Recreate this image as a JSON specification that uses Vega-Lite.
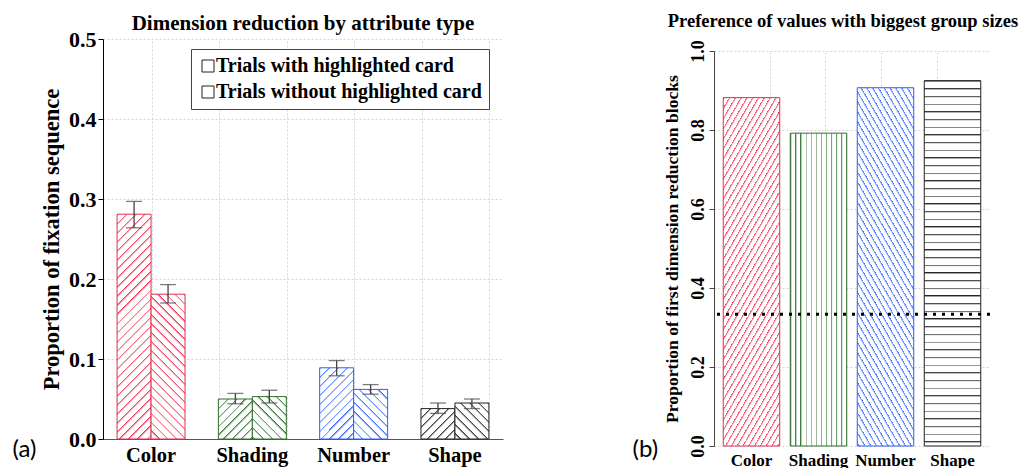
{
"$schema": "https://vega.github.io/schema/vega-lite/v6.json",
"background": "white",
"padding": {"left": 12, "top": 11, "right": 0, "bottom": 0},
"spacing": 129,
"config": {
  "view": {"stroke": null},
  "axis": {"labelFont": "Liberation Serif", "titleFont": "Liberation Serif", "labelFontWeight": "bold", "titleFontWeight": "bold", "labelColor": "#000", "titleColor": "#000", "domainColor": "#000", "tickColor": "#000", "gridColor": "#d4d4d4", "gridDash": [2, 2]},
  "title": {"font": "Liberation Serif", "fontWeight": "bold", "color": "#000"}
},
"datasets": {
  "a": [
    {"attr": "Color", "s": "with", "value": 0.281, "lo": 0.264, "hi": 0.297},
    {"attr": "Color", "s": "without", "value": 0.181, "lo": 0.170, "hi": 0.193},
    {"attr": "Shading", "s": "with", "value": 0.050, "lo": 0.044, "hi": 0.057},
    {"attr": "Shading", "s": "without", "value": 0.053, "lo": 0.045, "hi": 0.061},
    {"attr": "Number", "s": "with", "value": 0.089, "lo": 0.079, "hi": 0.098},
    {"attr": "Number", "s": "without", "value": 0.062, "lo": 0.056, "hi": 0.068},
    {"attr": "Shape", "s": "with", "value": 0.038, "lo": 0.032, "hi": 0.045},
    {"attr": "Shape", "s": "without", "value": 0.045, "lo": 0.038, "hi": 0.050}
  ],
  "b": [
    {"attr": "Color", "value": 0.882},
    {"attr": "Shading", "value": 0.792},
    {"attr": "Number", "value": 0.907},
    {"attr": "Shape", "value": 0.925}
  ]
},
"hconcat": [
{
  "width": 400, "height": 400,
  "title": {"text": "Dimension reduction by attribute type", "fontSize": 21, "offset": -5.5},
  "data": {"name": "a"},
  "layer": [
    {"mark": {"type": "point", "opacity": 0},
     "encoding": {
       "x": {"field": "value", "type": "quantitative", "scale": {"domain": [0, 400]}, "axis": {"orient": "top", "values": [49, 116, 184, 251, 319, 386], "grid": true, "labels": false, "ticks": false, "domain": false, "title": null, "minExtent": 0, "maxExtent": 0, "offset": 0, "labelPadding": 0, "tickSize": 0, "titlePadding": 0}},
       "y": {"field": "value", "type": "quantitative", "scale": {"domain": [0, 0.5]}, "title": "Proportion of fixation sequence"},
       "shape": {"field": "s", "type": "nominal", "scale": {"domain": ["with", "without"], "range": ["square", "square"]},
         "legend": {"orient": "none", "legendX": 88, "legendY": 10, "title": null, "symbolType": "square", "symbolSize": 144, "symbolStrokeWidth": 1, "symbolOpacity": 1, "symbolFillColor": "white", "symbolStrokeColor": "#222", "labelFont": "Liberation Serif", "labelFontWeight": "bold", "labelFontSize": 20, "labelColor": "#000", "labelLimit": 400, "labelOffset": -2, "rowPadding": 6, "padding": 7, "strokeColor": "#444", "fillColor": "white",
           "labelExpr": "datum.value === 'with' ? 'Trials with highlighted card' : 'Trials without highlighted card'",
           "encode": {"symbols": {"update": {
             "fill": [
               {"test": "datum.value === 'with'", "value": {"gradient": "linear", "x1": 0, "y1": 0, "x2": 1, "y2": 1, "stops": [{"offset":0,"color":"#222"},{"offset":0.08,"color":"#fff"},{"offset":0.25,"color":"#fff"},{"offset":0.25,"color":"#222"},{"offset":0.33,"color":"#fff"},{"offset":0.5,"color":"#fff"},{"offset":0.5,"color":"#222"},{"offset":0.58,"color":"#fff"},{"offset":0.75,"color":"#fff"},{"offset":0.75,"color":"#222"},{"offset":0.83,"color":"#fff"},{"offset":1,"color":"#fff"}]}},
               {"value": {"gradient": "linear", "x1": 1, "y1": 0, "x2": 0.001, "y2": 1, "stops": [{"offset":0,"color":"#222"},{"offset":0.08,"color":"#fff"},{"offset":0.25,"color":"#fff"},{"offset":0.25,"color":"#222"},{"offset":0.33,"color":"#fff"},{"offset":0.5,"color":"#fff"},{"offset":0.5,"color":"#222"},{"offset":0.58,"color":"#fff"},{"offset":0.75,"color":"#fff"},{"offset":0.75,"color":"#222"},{"offset":0.83,"color":"#fff"},{"offset":1,"color":"#fff"}]}}
             ],
             "stroke": {"value": "#222"}, "strokeWidth": {"value": 1}, "opacity": {"value": 1}, "fillOpacity": {"value": 1}, "strokeOpacity": {"value": 1}, "size": {"value": 144}, "shape": {"value": "square"}}}}}}
     }},
    {"layer": [
      {"mark": {"type": "bar", "strokeWidth": 1},
       "encoding": {
         "x": {"field": "attr", "type": "nominal", "scale": {"domain": ["Color", "Shading", "Number", "Shape"], "paddingInner": 0.329, "paddingOuter": 0.139},
               "axis": {"orient": "bottom", "title": "(a)", "titleFont": "Lato", "titleFontWeight": "normal", "titleFontSize": 24, "titleX": -91, "titleY": 10, "titleAlign": "left", "titleBaseline": "middle", "titleAngle": 0, "labelAngle": 0, "labelFontSize": 20.5, "labelPadding": 6, "ticks": false, "domainColor": "#555", "grid": false}},
         "xOffset": {"field": "s", "type": "nominal", "scale": {"domain": ["with", "without"], "paddingInner": 0, "paddingOuter": 0}},
         "y": {"field": "value", "type": "quantitative", "scale": {"domain": [0, 0.5]}, "title": "Proportion of fixation sequence",
               "axis": {"values": [0, 0.1, 0.2, 0.3, 0.4, 0.5], "format": ".1f", "grid": true, "labelFontSize": 22, "tickSize": 5, "labelPadding": 2, "titleFontSize": 22.5, "titlePadding": 5}},
         "stroke": {"field": "attr", "type": "nominal", "scale": {"domain": ["Color", "Shading", "Number", "Shape"], "range": ["#e0304e", "#2e6e2e", "#2f5cf5", "#222222"]}, "legend": null},
         "fill": {"condition": [
           {"test": "datum.attr === 'Color' && datum.s === 'with'", "value": {"gradient": "linear", "x1": 0, "y1": 0, "x2": 0.17, "y2": 1.126, "stops": [
{"offset":0,"color":"#e35"},{"offset":0.01,"color":"#fff"},{"offset":0.035,"color":"#fff"},
{"offset":0.035,"color":"#e35"},{"offset":0.045,"color":"#fff"},{"offset":0.07,"color":"#fff"},
{"offset":0.07,"color":"#e35"},{"offset":0.08,"color":"#fff"},{"offset":0.105,"color":"#fff"},
{"offset":0.105,"color":"#e35"},{"offset":0.115,"color":"#fff"},{"offset":0.14,"color":"#fff"},
{"offset":0.14,"color":"#e35"},{"offset":0.15,"color":"#fff"},{"offset":0.175,"color":"#fff"},
{"offset":0.175,"color":"#e35"},{"offset":0.185,"color":"#fff"},{"offset":0.21,"color":"#fff"},
{"offset":0.21,"color":"#e35"},{"offset":0.22,"color":"#fff"},{"offset":0.245,"color":"#fff"},
{"offset":0.245,"color":"#e35"},{"offset":0.255,"color":"#fff"},{"offset":0.28,"color":"#fff"},
{"offset":0.28,"color":"#e35"},{"offset":0.29,"color":"#fff"},{"offset":0.315,"color":"#fff"},
{"offset":0.315,"color":"#e35"},{"offset":0.325,"color":"#fff"},{"offset":0.35,"color":"#fff"},
{"offset":0.35,"color":"#e35"},{"offset":0.36,"color":"#fff"},{"offset":0.385,"color":"#fff"},
{"offset":0.385,"color":"#e35"},{"offset":0.395,"color":"#fff"},{"offset":0.42,"color":"#fff"},
{"offset":0.42,"color":"#e35"},{"offset":0.43,"color":"#fff"},{"offset":0.455,"color":"#fff"},
{"offset":0.455,"color":"#e35"},{"offset":0.465,"color":"#fff"},{"offset":0.49,"color":"#fff"},
{"offset":0.49,"color":"#e35"},{"offset":0.5,"color":"#fff"},{"offset":0.525,"color":"#fff"},
{"offset":0.525,"color":"#e35"},{"offset":0.535,"color":"#fff"},{"offset":0.56,"color":"#fff"},
{"offset":0.56,"color":"#e35"},{"offset":0.57,"color":"#fff"},{"offset":0.595,"color":"#fff"},
{"offset":0.595,"color":"#e35"},{"offset":0.605,"color":"#fff"},{"offset":0.63,"color":"#fff"},
{"offset":0.63,"color":"#e35"},{"offset":0.64,"color":"#fff"},{"offset":0.665,"color":"#fff"},
{"offset":0.665,"color":"#e35"},{"offset":0.675,"color":"#fff"},{"offset":0.7,"color":"#fff"},
{"offset":0.7,"color":"#e35"},{"offset":0.71,"color":"#fff"},{"offset":0.735,"color":"#fff"},
{"offset":0.735,"color":"#e35"},{"offset":0.745,"color":"#fff"},{"offset":0.77,"color":"#fff"},
{"offset":0.77,"color":"#e35"},{"offset":0.78,"color":"#fff"},{"offset":0.805,"color":"#fff"},
{"offset":0.805,"color":"#e35"},{"offset":0.815,"color":"#fff"},{"offset":0.84,"color":"#fff"},
{"offset":0.84,"color":"#e35"},{"offset":0.85,"color":"#fff"},{"offset":0.875,"color":"#fff"},
{"offset":0.875,"color":"#e35"},{"offset":0.885,"color":"#fff"},{"offset":0.91,"color":"#fff"},
{"offset":0.91,"color":"#e35"},{"offset":0.92,"color":"#fff"},{"offset":0.945,"color":"#fff"},
{"offset":0.945,"color":"#e35"},{"offset":0.955,"color":"#fff"},{"offset":0.98,"color":"#fff"},
{"offset":0.98,"color":"#e35"},{"offset":0.99,"color":"#fff"},{"offset":1,"color":"#fff"}]}},
           {"test": "datum.attr === 'Color' && datum.s === 'without'", "value": {"gradient": "linear", "x1": 1, "y1": 0, "x2": 0.725, "y2": 1.17, "stops": [
{"offset":0,"color":"#e35"},{"offset":0.015,"color":"#fff"},{"offset":0.05,"color":"#fff"},
{"offset":0.05,"color":"#e35"},{"offset":0.065,"color":"#fff"},{"offset":0.1,"color":"#fff"},
{"offset":0.1,"color":"#e35"},{"offset":0.115,"color":"#fff"},{"offset":0.15,"color":"#fff"},
{"offset":0.15,"color":"#e35"},{"offset":0.165,"color":"#fff"},{"offset":0.2,"color":"#fff"},
{"offset":0.2,"color":"#e35"},{"offset":0.215,"color":"#fff"},{"offset":0.25,"color":"#fff"},
{"offset":0.25,"color":"#e35"},{"offset":0.265,"color":"#fff"},{"offset":0.3,"color":"#fff"},
{"offset":0.3,"color":"#e35"},{"offset":0.315,"color":"#fff"},{"offset":0.35,"color":"#fff"},
{"offset":0.35,"color":"#e35"},{"offset":0.365,"color":"#fff"},{"offset":0.4,"color":"#fff"},
{"offset":0.4,"color":"#e35"},{"offset":0.415,"color":"#fff"},{"offset":0.45,"color":"#fff"},
{"offset":0.45,"color":"#e35"},{"offset":0.465,"color":"#fff"},{"offset":0.5,"color":"#fff"},
{"offset":0.5,"color":"#e35"},{"offset":0.515,"color":"#fff"},{"offset":0.55,"color":"#fff"},
{"offset":0.55,"color":"#e35"},{"offset":0.565,"color":"#fff"},{"offset":0.6,"color":"#fff"},
{"offset":0.6,"color":"#e35"},{"offset":0.615,"color":"#fff"},{"offset":0.65,"color":"#fff"},
{"offset":0.65,"color":"#e35"},{"offset":0.665,"color":"#fff"},{"offset":0.7,"color":"#fff"},
{"offset":0.7,"color":"#e35"},{"offset":0.715,"color":"#fff"},{"offset":0.75,"color":"#fff"},
{"offset":0.75,"color":"#e35"},{"offset":0.765,"color":"#fff"},{"offset":0.8,"color":"#fff"},
{"offset":0.8,"color":"#e35"},{"offset":0.815,"color":"#fff"},{"offset":0.85,"color":"#fff"},
{"offset":0.85,"color":"#e35"},{"offset":0.865,"color":"#fff"},{"offset":0.9,"color":"#fff"},
{"offset":0.9,"color":"#e35"},{"offset":0.915,"color":"#fff"},{"offset":0.95,"color":"#fff"},
{"offset":0.95,"color":"#e35"},{"offset":0.965,"color":"#fff"},{"offset":1,"color":"#fff"}]}},
           {"test": "datum.attr === 'Shading' && datum.s === 'with'", "value": {"gradient": "linear", "x1": 0, "y1": 0, "x2": 0.913, "y2": 1.074, "stops": [
{"offset":0,"color":"#373"},{"offset":0.035,"color":"#fff"},{"offset":0.12,"color":"#fff"},
{"offset":0.12,"color":"#373"},{"offset":0.155,"color":"#fff"},{"offset":0.24,"color":"#fff"},
{"offset":0.24,"color":"#373"},{"offset":0.275,"color":"#fff"},{"offset":0.36,"color":"#fff"},
{"offset":0.36,"color":"#373"},{"offset":0.395,"color":"#fff"},{"offset":0.48,"color":"#fff"},
{"offset":0.48,"color":"#373"},{"offset":0.515,"color":"#fff"},{"offset":0.6,"color":"#fff"},
{"offset":0.6,"color":"#373"},{"offset":0.635,"color":"#fff"},{"offset":0.72,"color":"#fff"},
{"offset":0.72,"color":"#373"},{"offset":0.755,"color":"#fff"},{"offset":0.84,"color":"#fff"},
{"offset":0.84,"color":"#373"},{"offset":0.875,"color":"#fff"},{"offset":0.96,"color":"#fff"},
{"offset":0.96,"color":"#373"},{"offset":0.995,"color":"#fff"},{"offset":1,"color":"#fff"}]}},
           {"test": "datum.attr === 'Shading' && datum.s === 'without'", "value": {"gradient": "linear", "x1": 1, "y1": 0, "x2": 0.121, "y2": 1.097, "stops": [
{"offset":0,"color":"#373"},{"offset":0.035,"color":"#fff"},{"offset":0.12,"color":"#fff"},
{"offset":0.12,"color":"#373"},{"offset":0.155,"color":"#fff"},{"offset":0.24,"color":"#fff"},
{"offset":0.24,"color":"#373"},{"offset":0.275,"color":"#fff"},{"offset":0.36,"color":"#fff"},
{"offset":0.36,"color":"#373"},{"offset":0.395,"color":"#fff"},{"offset":0.48,"color":"#fff"},
{"offset":0.48,"color":"#373"},{"offset":0.515,"color":"#fff"},{"offset":0.6,"color":"#fff"},
{"offset":0.6,"color":"#373"},{"offset":0.635,"color":"#fff"},{"offset":0.72,"color":"#fff"},
{"offset":0.72,"color":"#373"},{"offset":0.755,"color":"#fff"},{"offset":0.84,"color":"#fff"},
{"offset":0.84,"color":"#373"},{"offset":0.875,"color":"#fff"},{"offset":0.96,"color":"#fff"},
{"offset":0.96,"color":"#373"},{"offset":0.995,"color":"#fff"},{"offset":1,"color":"#fff"}]}},
           {"test": "datum.attr === 'Number' && datum.s === 'with'", "value": {"gradient": "linear", "x1": 0, "y1": 0, "x2": 0.575, "y2": 1.203, "stops": [
{"offset":0,"color":"#36f"},{"offset":0.025,"color":"#fff"},{"offset":0.085,"color":"#fff"},
{"offset":0.085,"color":"#36f"},{"offset":0.11,"color":"#fff"},{"offset":0.17,"color":"#fff"},
{"offset":0.17,"color":"#36f"},{"offset":0.195,"color":"#fff"},{"offset":0.255,"color":"#fff"},
{"offset":0.255,"color":"#36f"},{"offset":0.28,"color":"#fff"},{"offset":0.34,"color":"#fff"},
{"offset":0.34,"color":"#36f"},{"offset":0.365,"color":"#fff"},{"offset":0.425,"color":"#fff"},
{"offset":0.425,"color":"#36f"},{"offset":0.45,"color":"#fff"},{"offset":0.51,"color":"#fff"},
{"offset":0.51,"color":"#36f"},{"offset":0.535,"color":"#fff"},{"offset":0.595,"color":"#fff"},
{"offset":0.595,"color":"#36f"},{"offset":0.62,"color":"#fff"},{"offset":0.68,"color":"#fff"},
{"offset":0.68,"color":"#36f"},{"offset":0.705,"color":"#fff"},{"offset":0.765,"color":"#fff"},
{"offset":0.765,"color":"#36f"},{"offset":0.79,"color":"#fff"},{"offset":0.85,"color":"#fff"},
{"offset":0.85,"color":"#36f"},{"offset":0.875,"color":"#fff"},{"offset":0.935,"color":"#fff"},
{"offset":0.935,"color":"#36f"},{"offset":0.96,"color":"#fff"},{"offset":1,"color":"#fff"}]}},
           {"test": "datum.attr === 'Number' && datum.s === 'without'", "value": {"gradient": "linear", "x1": 1, "y1": 0, "x2": 0.214, "y2": 1.147, "stops": [
{"offset":0,"color":"#36f"},{"offset":0.03,"color":"#fff"},{"offset":0.11,"color":"#fff"},
{"offset":0.11,"color":"#36f"},{"offset":0.14,"color":"#fff"},{"offset":0.22,"color":"#fff"},
{"offset":0.22,"color":"#36f"},{"offset":0.25,"color":"#fff"},{"offset":0.33,"color":"#fff"},
{"offset":0.33,"color":"#36f"},{"offset":0.36,"color":"#fff"},{"offset":0.44,"color":"#fff"},
{"offset":0.44,"color":"#36f"},{"offset":0.47,"color":"#fff"},{"offset":0.55,"color":"#fff"},
{"offset":0.55,"color":"#36f"},{"offset":0.58,"color":"#fff"},{"offset":0.66,"color":"#fff"},
{"offset":0.66,"color":"#36f"},{"offset":0.69,"color":"#fff"},{"offset":0.77,"color":"#fff"},
{"offset":0.77,"color":"#36f"},{"offset":0.8,"color":"#fff"},{"offset":0.88,"color":"#fff"},
{"offset":0.88,"color":"#36f"},{"offset":0.91,"color":"#fff"},{"offset":0.99,"color":"#fff"},
{"offset":0.99,"color":"#36f"},{"offset":1,"color":"#fff"}]}},
           {"test": "datum.attr === 'Shape' && datum.s === 'with'", "value": {"gradient": "linear", "x1": 0, "y1": 0, "x2": 1.053, "y2": 0.941, "stops": [
{"offset":0,"color":"#222"},{"offset":0.04,"color":"#fff"},{"offset":0.14,"color":"#fff"},
{"offset":0.14,"color":"#222"},{"offset":0.18,"color":"#fff"},{"offset":0.28,"color":"#fff"},
{"offset":0.28,"color":"#222"},{"offset":0.32,"color":"#fff"},{"offset":0.42,"color":"#fff"},
{"offset":0.42,"color":"#222"},{"offset":0.46,"color":"#fff"},{"offset":0.56,"color":"#fff"},
{"offset":0.56,"color":"#222"},{"offset":0.6,"color":"#fff"},{"offset":0.7,"color":"#fff"},
{"offset":0.7,"color":"#222"},{"offset":0.74,"color":"#fff"},{"offset":0.84,"color":"#fff"},
{"offset":0.84,"color":"#222"},{"offset":0.88,"color":"#fff"},{"offset":0.98,"color":"#fff"},
{"offset":0.98,"color":"#222"},{"offset":1,"color":"#fff"}]}},
           {"test": "datum.attr === 'Shape' && datum.s === 'without'", "value": {"gradient": "linear", "x1": 1, "y1": 0, "x2": 0.029, "y2": 1.028, "stops": [
{"offset":0,"color":"#222"},{"offset":0.04,"color":"#fff"},{"offset":0.13,"color":"#fff"},
{"offset":0.13,"color":"#222"},{"offset":0.17,"color":"#fff"},{"offset":0.26,"color":"#fff"},
{"offset":0.26,"color":"#222"},{"offset":0.3,"color":"#fff"},{"offset":0.39,"color":"#fff"},
{"offset":0.39,"color":"#222"},{"offset":0.43,"color":"#fff"},{"offset":0.52,"color":"#fff"},
{"offset":0.52,"color":"#222"},{"offset":0.56,"color":"#fff"},{"offset":0.65,"color":"#fff"},
{"offset":0.65,"color":"#222"},{"offset":0.69,"color":"#fff"},{"offset":0.78,"color":"#fff"},
{"offset":0.78,"color":"#222"},{"offset":0.82,"color":"#fff"},{"offset":0.91,"color":"#fff"},
{"offset":0.91,"color":"#222"},{"offset":0.95,"color":"#fff"},{"offset":1,"color":"#fff"}]}}
         ], "value": "white"}
       }},
      {"mark": {"type": "rule", "color": "#444", "strokeWidth": 1.3},
       "encoding": {
         "x": {"field": "attr", "type": "nominal"},
         "xOffset": {"field": "s", "type": "nominal"},
         "y": {"field": "lo", "type": "quantitative", "title": "Proportion of fixation sequence"},
         "y2": {"field": "hi"}
       }},
      {"mark": {"type": "tick", "color": "#444", "size": 16, "thickness": 1.3},
       "encoding": {
         "x": {"field": "attr", "type": "nominal"},
         "xOffset": {"field": "s", "type": "nominal"},
         "y": {"field": "lo", "type": "quantitative", "title": "Proportion of fixation sequence"}
       }},
      {"mark": {"type": "tick", "color": "#444", "size": 16, "thickness": 1.3},
       "encoding": {
         "x": {"field": "attr", "type": "nominal"},
         "xOffset": {"field": "s", "type": "nominal"},
         "y": {"field": "hi", "type": "quantitative", "title": "Proportion of fixation sequence"}
       }}
    ]}
  ],
  "resolve": {"scale": {"x": "independent"}}
},
{
  "width": 276, "height": 407,
  "title": {"text": "Preference of values with biggest group sizes", "fontSize": 18.5, "offset": 9, "dx": -9},
  "layer": [
    {"data": {"name": "b"},
     "mark": {"type": "point", "opacity": 0},
     "encoding": {
       "x": {"field": "value", "type": "quantitative", "scale": {"domain": [0, 276]}, "axis": {"orient": "top", "values": [56, 111, 167, 223], "grid": true, "labels": false, "ticks": false, "domain": false, "title": null, "minExtent": 0, "maxExtent": 0, "offset": 0, "labelPadding": 0, "tickSize": 0, "titlePadding": 0}},
       "y": {"field": "value", "type": "quantitative", "scale": {"domain": [0, 1], "range": [407, 12]}, "title": "Proportion of first dimension reduction blocks"}
     }},
    {"layer": [
      {"data": {"name": "b"},
       "mark": {"type": "bar", "strokeWidth": 1},
       "encoding": {
         "x": {"field": "attr", "type": "nominal", "scale": {"domain": ["Color", "Shading", "Number", "Shape"], "paddingInner": 0.157, "paddingOuter": 0.138},
               "axis": {"orient": "bottom", "title": "(b)", "titleFont": "Lato", "titleFontWeight": "normal", "titleFontSize": 24, "titleX": -82, "titleY": 3, "titleAlign": "left", "titleBaseline": "middle", "titleAngle": 0, "labelAngle": 0, "labelFontSize": 17, "labelPadding": 6, "ticks": false, "domain": false, "grid": false}},
         "y": {"field": "value", "type": "quantitative", "scale": {"domain": [0, 1], "range": [407, 12]}, "title": "Proportion of first dimension reduction blocks",
               "axis": {"values": [0, 0.2, 0.4, 0.6, 0.8, 1], "format": ".1f", "grid": true, "labelAngle": 270, "labelAlign": "center", "labelBaseline": "bottom", "labelFontSize": 18, "tickSize": 5, "labelPadding": 2, "titleFontSize": 17.6, "titlePadding": 8, "domainColor": "#444", "tickColor": "#444"}},
         "stroke": {"field": "attr", "type": "nominal", "scale": {"domain": ["Color", "Shading", "Number", "Shape"], "range": ["#e0304e", "#2e6e2e", "#2f5cf5", "#222222"]}, "legend": null},
         "fill": {"condition": [
           {"test": "datum.attr === 'Color'", "value": {"gradient": "linear", "x1": 0, "y1": 0, "x2": 0.333, "y2": 1.187, "stops": [
{"offset":0,"color":"#e35"},{"offset":0.008,"color":"#fff"},{"offset":0.0225,"color":"#fff"},
{"offset":0.0225,"color":"#e35"},{"offset":0.0305,"color":"#fff"},{"offset":0.045,"color":"#fff"},
{"offset":0.045,"color":"#e35"},{"offset":0.053,"color":"#fff"},{"offset":0.0675,"color":"#fff"},
{"offset":0.0675,"color":"#e35"},{"offset":0.0755,"color":"#fff"},{"offset":0.09,"color":"#fff"},
{"offset":0.09,"color":"#e35"},{"offset":0.098,"color":"#fff"},{"offset":0.1125,"color":"#fff"},
{"offset":0.1125,"color":"#e35"},{"offset":0.1205,"color":"#fff"},{"offset":0.135,"color":"#fff"},
{"offset":0.135,"color":"#e35"},{"offset":0.143,"color":"#fff"},{"offset":0.1575,"color":"#fff"},
{"offset":0.1575,"color":"#e35"},{"offset":0.1655,"color":"#fff"},{"offset":0.18,"color":"#fff"},
{"offset":0.18,"color":"#e35"},{"offset":0.188,"color":"#fff"},{"offset":0.2025,"color":"#fff"},
{"offset":0.2025,"color":"#e35"},{"offset":0.2105,"color":"#fff"},{"offset":0.225,"color":"#fff"},
{"offset":0.225,"color":"#e35"},{"offset":0.233,"color":"#fff"},{"offset":0.2475,"color":"#fff"},
{"offset":0.2475,"color":"#e35"},{"offset":0.2555,"color":"#fff"},{"offset":0.27,"color":"#fff"},
{"offset":0.27,"color":"#e35"},{"offset":0.278,"color":"#fff"},{"offset":0.2925,"color":"#fff"},
{"offset":0.2925,"color":"#e35"},{"offset":0.3005,"color":"#fff"},{"offset":0.315,"color":"#fff"},
{"offset":0.315,"color":"#e35"},{"offset":0.323,"color":"#fff"},{"offset":0.3375,"color":"#fff"},
{"offset":0.3375,"color":"#e35"},{"offset":0.3455,"color":"#fff"},{"offset":0.36,"color":"#fff"},
{"offset":0.36,"color":"#e35"},{"offset":0.368,"color":"#fff"},{"offset":0.3825,"color":"#fff"},
{"offset":0.3825,"color":"#e35"},{"offset":0.3905,"color":"#fff"},{"offset":0.405,"color":"#fff"},
{"offset":0.405,"color":"#e35"},{"offset":0.413,"color":"#fff"},{"offset":0.4275,"color":"#fff"},
{"offset":0.4275,"color":"#e35"},{"offset":0.4355,"color":"#fff"},{"offset":0.45,"color":"#fff"},
{"offset":0.45,"color":"#e35"},{"offset":0.458,"color":"#fff"},{"offset":0.4725,"color":"#fff"},
{"offset":0.4725,"color":"#e35"},{"offset":0.4805,"color":"#fff"},{"offset":0.495,"color":"#fff"},
{"offset":0.495,"color":"#e35"},{"offset":0.503,"color":"#fff"},{"offset":0.5175,"color":"#fff"},
{"offset":0.5175,"color":"#e35"},{"offset":0.5255,"color":"#fff"},{"offset":0.54,"color":"#fff"},
{"offset":0.54,"color":"#e35"},{"offset":0.548,"color":"#fff"},{"offset":0.5625,"color":"#fff"},
{"offset":0.5625,"color":"#e35"},{"offset":0.5705,"color":"#fff"},{"offset":0.585,"color":"#fff"},
{"offset":0.585,"color":"#e35"},{"offset":0.593,"color":"#fff"},{"offset":0.6075,"color":"#fff"},
{"offset":0.6075,"color":"#e35"},{"offset":0.6155,"color":"#fff"},{"offset":0.63,"color":"#fff"},
{"offset":0.63,"color":"#e35"},{"offset":0.638,"color":"#fff"},{"offset":0.6525,"color":"#fff"},
{"offset":0.6525,"color":"#e35"},{"offset":0.6605,"color":"#fff"},{"offset":0.675,"color":"#fff"},
{"offset":0.675,"color":"#e35"},{"offset":0.683,"color":"#fff"},{"offset":0.6975,"color":"#fff"},
{"offset":0.6975,"color":"#e35"},{"offset":0.7055,"color":"#fff"},{"offset":0.72,"color":"#fff"},
{"offset":0.72,"color":"#e35"},{"offset":0.728,"color":"#fff"},{"offset":0.7425,"color":"#fff"},
{"offset":0.7425,"color":"#e35"},{"offset":0.7505,"color":"#fff"},{"offset":0.765,"color":"#fff"},
{"offset":0.765,"color":"#e35"},{"offset":0.773,"color":"#fff"},{"offset":0.7875,"color":"#fff"},
{"offset":0.7875,"color":"#e35"},{"offset":0.7955,"color":"#fff"},{"offset":0.81,"color":"#fff"},
{"offset":0.81,"color":"#e35"},{"offset":0.818,"color":"#fff"},{"offset":0.8325,"color":"#fff"},
{"offset":0.8325,"color":"#e35"},{"offset":0.8405,"color":"#fff"},{"offset":0.855,"color":"#fff"},
{"offset":0.855,"color":"#e35"},{"offset":0.863,"color":"#fff"},{"offset":0.8775,"color":"#fff"},
{"offset":0.8775,"color":"#e35"},{"offset":0.8855,"color":"#fff"},{"offset":0.9,"color":"#fff"},
{"offset":0.9,"color":"#e35"},{"offset":0.908,"color":"#fff"},{"offset":0.9225,"color":"#fff"},
{"offset":0.9225,"color":"#e35"},{"offset":0.9305,"color":"#fff"},{"offset":0.945,"color":"#fff"},
{"offset":0.945,"color":"#e35"},{"offset":0.953,"color":"#fff"},{"offset":0.9675,"color":"#fff"},
{"offset":0.9675,"color":"#e35"},{"offset":0.9755,"color":"#fff"},{"offset":0.99,"color":"#fff"},
{"offset":0.99,"color":"#e35"},{"offset":0.998,"color":"#fff"},{"offset":1,"color":"#fff"}]}},
           {"test": "datum.attr === 'Shading'", "value": {"gradient": "linear", "x1": 0, "y1": 0.5, "x2": 1, "y2": 0.5, "stops": [
{"offset":0,"color":"#373"},{"offset":0.03,"color":"#fff"},{"offset":0.09,"color":"#fff"},
{"offset":0.09,"color":"#373"},{"offset":0.12,"color":"#fff"},{"offset":0.18,"color":"#fff"},
{"offset":0.18,"color":"#373"},{"offset":0.21,"color":"#fff"},{"offset":0.27,"color":"#fff"},
{"offset":0.27,"color":"#373"},{"offset":0.3,"color":"#fff"},{"offset":0.36,"color":"#fff"},
{"offset":0.36,"color":"#373"},{"offset":0.39,"color":"#fff"},{"offset":0.45,"color":"#fff"},
{"offset":0.45,"color":"#373"},{"offset":0.48,"color":"#fff"},{"offset":0.54,"color":"#fff"},
{"offset":0.54,"color":"#373"},{"offset":0.57,"color":"#fff"},{"offset":0.63,"color":"#fff"},
{"offset":0.63,"color":"#373"},{"offset":0.66,"color":"#fff"},{"offset":0.72,"color":"#fff"},
{"offset":0.72,"color":"#373"},{"offset":0.75,"color":"#fff"},{"offset":0.81,"color":"#fff"},
{"offset":0.81,"color":"#373"},{"offset":0.84,"color":"#fff"},{"offset":0.9,"color":"#fff"},
{"offset":0.9,"color":"#373"},{"offset":0.93,"color":"#fff"},{"offset":0.99,"color":"#fff"},
{"offset":0.99,"color":"#373"},{"offset":1,"color":"#fff"}]}},
           {"test": "datum.attr === 'Number'", "value": {"gradient": "linear", "x1": 1, "y1": 0, "x2": 0.676, "y2": 1.185, "stops": [
{"offset":0,"color":"#36f"},{"offset":0.008,"color":"#fff"},{"offset":0.022,"color":"#fff"},
{"offset":0.022,"color":"#36f"},{"offset":0.03,"color":"#fff"},{"offset":0.044,"color":"#fff"},
{"offset":0.044,"color":"#36f"},{"offset":0.052,"color":"#fff"},{"offset":0.066,"color":"#fff"},
{"offset":0.066,"color":"#36f"},{"offset":0.074,"color":"#fff"},{"offset":0.088,"color":"#fff"},
{"offset":0.088,"color":"#36f"},{"offset":0.096,"color":"#fff"},{"offset":0.11,"color":"#fff"},
{"offset":0.11,"color":"#36f"},{"offset":0.118,"color":"#fff"},{"offset":0.132,"color":"#fff"},
{"offset":0.132,"color":"#36f"},{"offset":0.14,"color":"#fff"},{"offset":0.154,"color":"#fff"},
{"offset":0.154,"color":"#36f"},{"offset":0.162,"color":"#fff"},{"offset":0.176,"color":"#fff"},
{"offset":0.176,"color":"#36f"},{"offset":0.184,"color":"#fff"},{"offset":0.198,"color":"#fff"},
{"offset":0.198,"color":"#36f"},{"offset":0.206,"color":"#fff"},{"offset":0.22,"color":"#fff"},
{"offset":0.22,"color":"#36f"},{"offset":0.228,"color":"#fff"},{"offset":0.242,"color":"#fff"},
{"offset":0.242,"color":"#36f"},{"offset":0.25,"color":"#fff"},{"offset":0.264,"color":"#fff"},
{"offset":0.264,"color":"#36f"},{"offset":0.272,"color":"#fff"},{"offset":0.286,"color":"#fff"},
{"offset":0.286,"color":"#36f"},{"offset":0.294,"color":"#fff"},{"offset":0.308,"color":"#fff"},
{"offset":0.308,"color":"#36f"},{"offset":0.316,"color":"#fff"},{"offset":0.33,"color":"#fff"},
{"offset":0.33,"color":"#36f"},{"offset":0.338,"color":"#fff"},{"offset":0.352,"color":"#fff"},
{"offset":0.352,"color":"#36f"},{"offset":0.36,"color":"#fff"},{"offset":0.374,"color":"#fff"},
{"offset":0.374,"color":"#36f"},{"offset":0.382,"color":"#fff"},{"offset":0.396,"color":"#fff"},
{"offset":0.396,"color":"#36f"},{"offset":0.404,"color":"#fff"},{"offset":0.418,"color":"#fff"},
{"offset":0.418,"color":"#36f"},{"offset":0.426,"color":"#fff"},{"offset":0.44,"color":"#fff"},
{"offset":0.44,"color":"#36f"},{"offset":0.448,"color":"#fff"},{"offset":0.462,"color":"#fff"},
{"offset":0.462,"color":"#36f"},{"offset":0.47,"color":"#fff"},{"offset":0.484,"color":"#fff"},
{"offset":0.484,"color":"#36f"},{"offset":0.492,"color":"#fff"},{"offset":0.506,"color":"#fff"},
{"offset":0.506,"color":"#36f"},{"offset":0.514,"color":"#fff"},{"offset":0.528,"color":"#fff"},
{"offset":0.528,"color":"#36f"},{"offset":0.536,"color":"#fff"},{"offset":0.55,"color":"#fff"},
{"offset":0.55,"color":"#36f"},{"offset":0.558,"color":"#fff"},{"offset":0.572,"color":"#fff"},
{"offset":0.572,"color":"#36f"},{"offset":0.58,"color":"#fff"},{"offset":0.594,"color":"#fff"},
{"offset":0.594,"color":"#36f"},{"offset":0.602,"color":"#fff"},{"offset":0.616,"color":"#fff"},
{"offset":0.616,"color":"#36f"},{"offset":0.624,"color":"#fff"},{"offset":0.638,"color":"#fff"},
{"offset":0.638,"color":"#36f"},{"offset":0.646,"color":"#fff"},{"offset":0.66,"color":"#fff"},
{"offset":0.66,"color":"#36f"},{"offset":0.668,"color":"#fff"},{"offset":0.682,"color":"#fff"},
{"offset":0.682,"color":"#36f"},{"offset":0.69,"color":"#fff"},{"offset":0.704,"color":"#fff"},
{"offset":0.704,"color":"#36f"},{"offset":0.712,"color":"#fff"},{"offset":0.726,"color":"#fff"},
{"offset":0.726,"color":"#36f"},{"offset":0.734,"color":"#fff"},{"offset":0.748,"color":"#fff"},
{"offset":0.748,"color":"#36f"},{"offset":0.756,"color":"#fff"},{"offset":0.77,"color":"#fff"},
{"offset":0.77,"color":"#36f"},{"offset":0.778,"color":"#fff"},{"offset":0.792,"color":"#fff"},
{"offset":0.792,"color":"#36f"},{"offset":0.8,"color":"#fff"},{"offset":0.814,"color":"#fff"},
{"offset":0.814,"color":"#36f"},{"offset":0.822,"color":"#fff"},{"offset":0.836,"color":"#fff"},
{"offset":0.836,"color":"#36f"},{"offset":0.844,"color":"#fff"},{"offset":0.858,"color":"#fff"},
{"offset":0.858,"color":"#36f"},{"offset":0.866,"color":"#fff"},{"offset":0.88,"color":"#fff"},
{"offset":0.88,"color":"#36f"},{"offset":0.888,"color":"#fff"},{"offset":0.902,"color":"#fff"},
{"offset":0.902,"color":"#36f"},{"offset":0.91,"color":"#fff"},{"offset":0.924,"color":"#fff"},
{"offset":0.924,"color":"#36f"},{"offset":0.932,"color":"#fff"},{"offset":0.946,"color":"#fff"},
{"offset":0.946,"color":"#36f"},{"offset":0.954,"color":"#fff"},{"offset":0.968,"color":"#fff"},
{"offset":0.968,"color":"#36f"},{"offset":0.976,"color":"#fff"},{"offset":0.99,"color":"#fff"},
{"offset":0.99,"color":"#36f"},{"offset":0.998,"color":"#fff"},{"offset":1,"color":"#fff"}]}},
           {"test": "datum.attr === 'Shape'", "value": {"gradient": "linear", "x1": 0.5, "y1": 0, "x2": 0.5, "y2": 1, "stops": [
{"offset":0,"color":"#222"},{"offset":0.005,"color":"#fff"},{"offset":0.021,"color":"#fff"},
{"offset":0.021,"color":"#222"},{"offset":0.026,"color":"#fff"},{"offset":0.042,"color":"#fff"},
{"offset":0.042,"color":"#222"},{"offset":0.047,"color":"#fff"},{"offset":0.063,"color":"#fff"},
{"offset":0.063,"color":"#222"},{"offset":0.068,"color":"#fff"},{"offset":0.084,"color":"#fff"},
{"offset":0.084,"color":"#222"},{"offset":0.089,"color":"#fff"},{"offset":0.105,"color":"#fff"},
{"offset":0.105,"color":"#222"},{"offset":0.11,"color":"#fff"},{"offset":0.126,"color":"#fff"},
{"offset":0.126,"color":"#222"},{"offset":0.131,"color":"#fff"},{"offset":0.147,"color":"#fff"},
{"offset":0.147,"color":"#222"},{"offset":0.152,"color":"#fff"},{"offset":0.168,"color":"#fff"},
{"offset":0.168,"color":"#222"},{"offset":0.173,"color":"#fff"},{"offset":0.189,"color":"#fff"},
{"offset":0.189,"color":"#222"},{"offset":0.194,"color":"#fff"},{"offset":0.21,"color":"#fff"},
{"offset":0.21,"color":"#222"},{"offset":0.215,"color":"#fff"},{"offset":0.231,"color":"#fff"},
{"offset":0.231,"color":"#222"},{"offset":0.236,"color":"#fff"},{"offset":0.252,"color":"#fff"},
{"offset":0.252,"color":"#222"},{"offset":0.257,"color":"#fff"},{"offset":0.273,"color":"#fff"},
{"offset":0.273,"color":"#222"},{"offset":0.278,"color":"#fff"},{"offset":0.294,"color":"#fff"},
{"offset":0.294,"color":"#222"},{"offset":0.299,"color":"#fff"},{"offset":0.315,"color":"#fff"},
{"offset":0.315,"color":"#222"},{"offset":0.32,"color":"#fff"},{"offset":0.336,"color":"#fff"},
{"offset":0.336,"color":"#222"},{"offset":0.341,"color":"#fff"},{"offset":0.357,"color":"#fff"},
{"offset":0.357,"color":"#222"},{"offset":0.362,"color":"#fff"},{"offset":0.378,"color":"#fff"},
{"offset":0.378,"color":"#222"},{"offset":0.383,"color":"#fff"},{"offset":0.399,"color":"#fff"},
{"offset":0.399,"color":"#222"},{"offset":0.404,"color":"#fff"},{"offset":0.42,"color":"#fff"},
{"offset":0.42,"color":"#222"},{"offset":0.425,"color":"#fff"},{"offset":0.441,"color":"#fff"},
{"offset":0.441,"color":"#222"},{"offset":0.446,"color":"#fff"},{"offset":0.462,"color":"#fff"},
{"offset":0.462,"color":"#222"},{"offset":0.467,"color":"#fff"},{"offset":0.483,"color":"#fff"},
{"offset":0.483,"color":"#222"},{"offset":0.488,"color":"#fff"},{"offset":0.504,"color":"#fff"},
{"offset":0.504,"color":"#222"},{"offset":0.509,"color":"#fff"},{"offset":0.525,"color":"#fff"},
{"offset":0.525,"color":"#222"},{"offset":0.53,"color":"#fff"},{"offset":0.546,"color":"#fff"},
{"offset":0.546,"color":"#222"},{"offset":0.551,"color":"#fff"},{"offset":0.567,"color":"#fff"},
{"offset":0.567,"color":"#222"},{"offset":0.572,"color":"#fff"},{"offset":0.588,"color":"#fff"},
{"offset":0.588,"color":"#222"},{"offset":0.593,"color":"#fff"},{"offset":0.609,"color":"#fff"},
{"offset":0.609,"color":"#222"},{"offset":0.614,"color":"#fff"},{"offset":0.63,"color":"#fff"},
{"offset":0.63,"color":"#222"},{"offset":0.635,"color":"#fff"},{"offset":0.651,"color":"#fff"},
{"offset":0.651,"color":"#222"},{"offset":0.656,"color":"#fff"},{"offset":0.672,"color":"#fff"},
{"offset":0.672,"color":"#222"},{"offset":0.677,"color":"#fff"},{"offset":0.693,"color":"#fff"},
{"offset":0.693,"color":"#222"},{"offset":0.698,"color":"#fff"},{"offset":0.714,"color":"#fff"},
{"offset":0.714,"color":"#222"},{"offset":0.719,"color":"#fff"},{"offset":0.735,"color":"#fff"},
{"offset":0.735,"color":"#222"},{"offset":0.74,"color":"#fff"},{"offset":0.756,"color":"#fff"},
{"offset":0.756,"color":"#222"},{"offset":0.761,"color":"#fff"},{"offset":0.777,"color":"#fff"},
{"offset":0.777,"color":"#222"},{"offset":0.782,"color":"#fff"},{"offset":0.798,"color":"#fff"},
{"offset":0.798,"color":"#222"},{"offset":0.803,"color":"#fff"},{"offset":0.819,"color":"#fff"},
{"offset":0.819,"color":"#222"},{"offset":0.824,"color":"#fff"},{"offset":0.84,"color":"#fff"},
{"offset":0.84,"color":"#222"},{"offset":0.845,"color":"#fff"},{"offset":0.861,"color":"#fff"},
{"offset":0.861,"color":"#222"},{"offset":0.866,"color":"#fff"},{"offset":0.882,"color":"#fff"},
{"offset":0.882,"color":"#222"},{"offset":0.887,"color":"#fff"},{"offset":0.903,"color":"#fff"},
{"offset":0.903,"color":"#222"},{"offset":0.908,"color":"#fff"},{"offset":0.924,"color":"#fff"},
{"offset":0.924,"color":"#222"},{"offset":0.929,"color":"#fff"},{"offset":0.945,"color":"#fff"},
{"offset":0.945,"color":"#222"},{"offset":0.95,"color":"#fff"},{"offset":0.966,"color":"#fff"},
{"offset":0.966,"color":"#222"},{"offset":0.971,"color":"#fff"},{"offset":0.987,"color":"#fff"},
{"offset":0.987,"color":"#222"},{"offset":0.992,"color":"#fff"},{"offset":1,"color":"#fff"}]}}
         ], "value": "white"}
       }},
      {"data": {"values": [{"chance": 0.3333}]},
       "mark": {"type": "rule", "color": "#000", "strokeWidth": 3, "strokeDash": [3, 6]},
       "encoding": {
         "y": {"field": "chance", "type": "quantitative", "title": "Proportion of first dimension reduction blocks"}
       }}
    ]}
  ],
  "resolve": {"scale": {"x": "independent"}}
}
]
}
